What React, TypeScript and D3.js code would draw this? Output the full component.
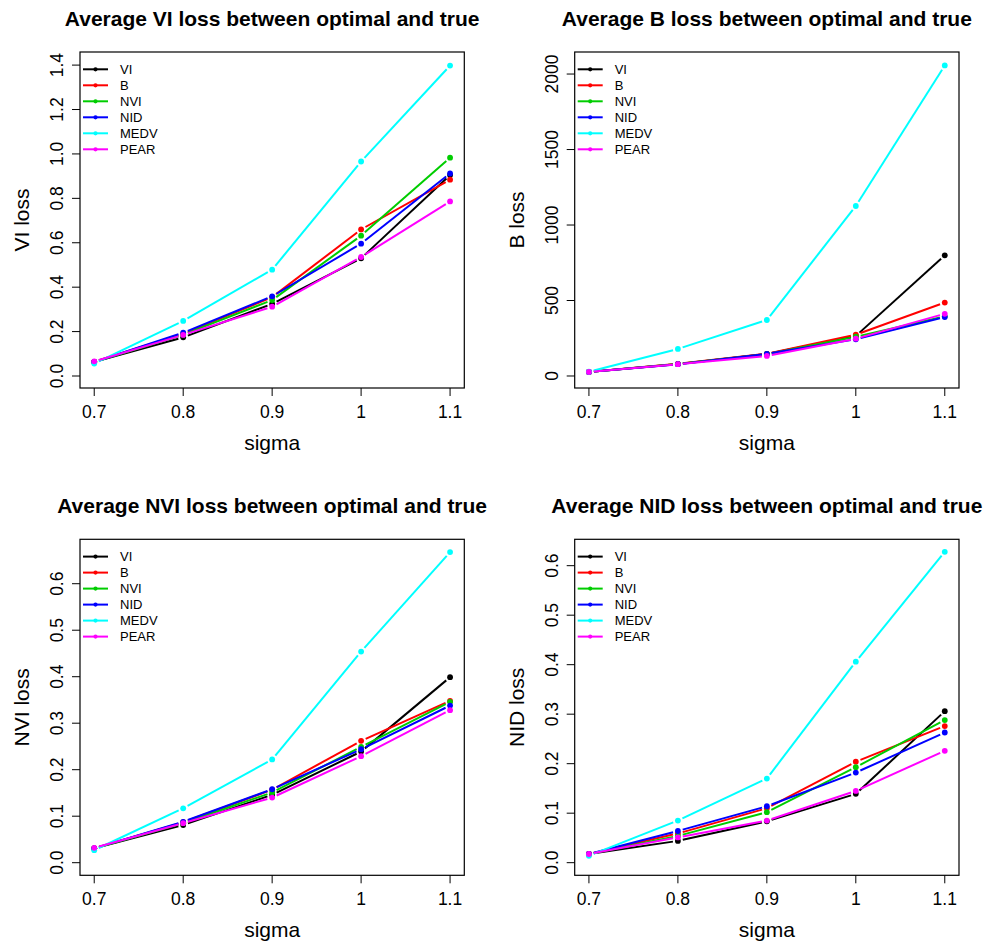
import React from "react";
import * as d3 from "d3";

// sigma values on the x axis
const sigmas = [0.7, 0.8, 0.9, 1.0, 1.1];
const xTickLabels = ["0.7", "0.8", "0.9", "1", "1.1"];

const methods = ["VI", "B", "NVI", "NID", "MEDV", "PEAR"];
const colors = ["#000000", "#FF0000", "#00CD00", "#0000FF", "#00FFFF", "#FF00FF"];

// VI loss per method (rows follow `methods`)
const viLoss = [
  [0.064, 0.174, 0.325, 0.53, 0.905],
  [0.064, 0.19, 0.355, 0.66, 0.884],
  [0.063, 0.186, 0.342, 0.632, 0.983],
  [0.063, 0.195, 0.359, 0.596, 0.912],
  [0.056, 0.248, 0.479, 0.966, 1.398],
  [0.066, 0.185, 0.312, 0.536, 0.786],
];
const viTicks = [0, 0.2, 0.4, 0.6, 0.8, 1.0, 1.2, 1.4];

// B loss
const bLoss = [
  [27, 79, 146, 265, 799],
  [27, 80, 147, 274, 486],
  [27, 79, 145, 260, 395],
  [27, 78, 147, 243, 390],
  [28, 179, 371, 1126, 2057],
  [27, 78, 133, 247, 412],
];
const bTicks = [0, 500, 1000, 1500, 2000];

// NVI loss
const nviLoss = [
  [0.031, 0.081, 0.146, 0.239, 0.399],
  [0.031, 0.087, 0.157, 0.262, 0.348],
  [0.031, 0.085, 0.151, 0.249, 0.346],
  [0.031, 0.088, 0.158, 0.244, 0.338],
  [0.027, 0.117, 0.222, 0.454, 0.668],
  [0.032, 0.085, 0.14, 0.229, 0.328],
];
const nviTicks = [0, 0.1, 0.2, 0.3, 0.4, 0.5, 0.6];

// NID loss
const nidLoss = [
  [0.0175, 0.044, 0.0835, 0.139, 0.306],
  [0.0175, 0.059, 0.11, 0.204, 0.276],
  [0.0175, 0.054, 0.102, 0.193, 0.288],
  [0.0175, 0.064, 0.114, 0.182, 0.263],
  [0.014, 0.085, 0.17, 0.406, 0.628],
  [0.0175, 0.051, 0.085, 0.145, 0.226],
];
const nidTicks = [0, 0.1, 0.2, 0.3, 0.4, 0.5, 0.6];

const FONT = "'Liberation Sans', Arial, Helvetica, sans-serif";

type PanelProps = {
  left: number;
  top: number;
  title: string;
  ylab: string;
  values: number[][];
  yDomain: [number, number];
  yTicks: number[];
  fmt: (v: number) => string;
};

function Panel({ left, top, title, ylab, values, yDomain, yTicks, fmt }: PanelProps) {
  const w = 384.3;
  const h = 336;
  const x = d3.scaleLinear().domain([0.684, 1.116]).range([left, left + w]);
  const y = d3.scaleLinear().domain(yDomain).range([top + h, top]);
  const gap = 5;

  const segs: JSX.Element[] = [];
  values.forEach((row, si) => {
    for (let i = 0; i < row.length - 1; i++) {
      const x1 = x(sigmas[i]), y1 = y(row[i]);
      const x2 = x(sigmas[i + 1]), y2 = y(row[i + 1]);
      const len = Math.hypot(x2 - x1, y2 - y1);
      if (len <= 2 * gap) continue;
      const ux = (x2 - x1) / len, uy = (y2 - y1) / len;
      segs.push(
        <line
          key={`s${si}-${i}`}
          x1={x1 + ux * gap}
          y1={y1 + uy * gap}
          x2={x2 - ux * gap}
          y2={y2 - uy * gap}
          stroke={colors[si]}
          strokeWidth={2}
        />
      );
    }
    row.forEach((v, i) => {
      segs.push(<circle key={`p${si}-${i}`} cx={x(sigmas[i])} cy={y(v)} r={2.9} fill={colors[si]} />);
    });
  });

  return (
    <g fontFamily={FONT}>
      <text x={left + w / 2} y={top - 26} textAnchor="middle" fontSize={21} fontWeight="bold">
        {title}
      </text>
      {segs}
      <rect x={left} y={top} width={w} height={h} fill="none" stroke="#000" strokeWidth={1.2} />
      {sigmas.map((s, i) => (
        <g key={`xt${i}`}>
          <line x1={x(s)} x2={x(s)} y1={top + h} y2={top + h + 8} stroke="#000" strokeWidth={1} />
          <text x={x(s)} y={top + h + 30} textAnchor="middle" fontSize={17.5}>
            {xTickLabels[i]}
          </text>
        </g>
      ))}
      {yTicks.map((t, i) => (
        <g key={`yt${i}`}>
          <line x1={left - 8} x2={left} y1={y(t)} y2={y(t)} stroke="#000" strokeWidth={1} />
          <text
            transform={`translate(${left - 17},${y(t)}) rotate(-90)`}
            textAnchor="middle"
            fontSize={17.5}
          >
            {fmt(t)}
          </text>
        </g>
      ))}
      <text x={left + w / 2} y={top + h + 62} textAnchor="middle" fontSize={21}>
        sigma
      </text>
      <text
        transform={`translate(${left - 51},${top + h / 2}) rotate(-90)`}
        textAnchor="middle"
        fontSize={21}
      >
        {ylab}
      </text>
      {methods.map((m, i) => {
        const ly = top + 17.3 + i * 16;
        return (
          <g key={`lg${i}`}>
            <line x1={left + 3} x2={left + 28} y1={ly} y2={ly} stroke={colors[i]} strokeWidth={2} />
            <circle cx={left + 15.5} cy={ly} r={2.1} fill={colors[i]} />
            <text x={left + 40} y={ly} dy="0.35em" fontSize={13}>
              {m}
            </text>
          </g>
        );
      })}
    </g>
  );
}

export default function App() {
  const f1 = d3.format(".1f");
  return (
    <svg width={985} height={942} style={{ position: "absolute", left: 0, top: 0, background: "#fff" }}>
      <rect width={985} height={942} fill="#fff" />
      <Panel
        left={80}
        top={52}
        title="Average VI loss between optimal and true"
        ylab="VI loss"
        values={viLoss}
        yDomain={[-0.054, 1.459]}
        yTicks={viTicks}
        fmt={f1}
      />
      <Panel
        left={574.7}
        top={52}
        title="Average B loss between optimal and true"
        ylab="B loss"
        values={bLoss}
        yDomain={[-79.5, 2146]}
        yTicks={bTicks}
        fmt={(v) => String(v)}
      />
      <Panel
        left={80}
        top={539.3}
        title="Average NVI loss between optimal and true"
        ylab="NVI loss"
        values={nviLoss}
        yDomain={[-0.0271, 0.6955]}
        yTicks={nviTicks}
        fmt={f1}
      />
      <Panel
        left={574.7}
        top={539.3}
        title="Average NID loss between optimal and true"
        ylab="NID loss"
        values={nidLoss}
        yDomain={[-0.0255, 0.6533]}
        yTicks={nidTicks}
        fmt={f1}
      />
    </svg>
  );
}
